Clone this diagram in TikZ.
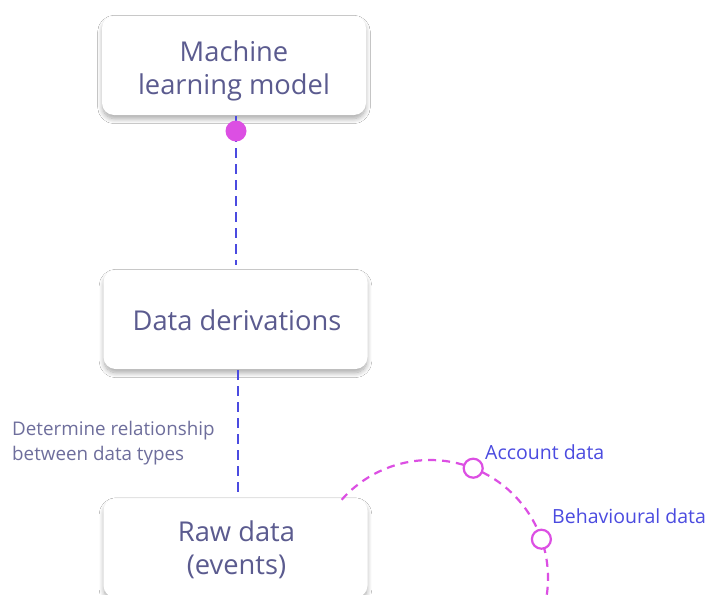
\documentclass[tikz,border=0pt]{standalone}
\usepackage{fontspec}
\setmainfont{Open Sans}
\usetikzlibrary{shadows.blur}
\definecolor{txt}{HTML}{5B5B8F}
\definecolor{lbl}{HTML}{6E6E9C}
\definecolor{blueln}{HTML}{4B4BE0}
\definecolor{mag}{HTML}{DC4FE3}
\tikzset{
  card/.style={draw=none, fill=white, rounded corners=12pt, minimum width=264pt, minimum height=99pt,
    blur shadow={shadow xshift=0pt, shadow yshift=-4pt, shadow blur radius=5pt, shadow blur steps=10, shadow opacity=35, shadow scale=0.995}},
  cardtext/.style={align=center, text=txt, font=\fontsize{27.3}{33}\selectfont, inner sep=0pt},
  dline/.style={draw=blueln, line width=2.2pt, dash pattern=on 10pt off 6pt},
  arcline/.style={draw=mag, line width=2.2pt, dash pattern=on 8pt off 6pt},
  dot/.style={circle, fill=mag, inner sep=0pt, minimum size=21pt},
  ring/.style={circle, draw=mag, fill=white, line width=2.2pt, inner sep=0pt, minimum size=19pt},
  bluetext/.style={text=blueln, font=\fontsize{19.5}{22}\selectfont, anchor=west, inner sep=0pt},
  note/.style={text=lbl, font=\fontsize{18.8}{25}\selectfont, align=left, anchor=north west, inner sep=0pt}
}
\begin{document}
\begin{tikzpicture}[x=1pt,y=-1pt]
\useasboundingbox (0,0) rectangle (705,595);
\fill[white] (0,0) rectangle (705,595);
\begin{scope}
\clip (0,0) rectangle (705,595);
\node[card] (ml) at (234,65.5) {};
\node[card] (dd) at (235.5,319.5) {};
\node[card] (raw) at (235.5,548) {};
\node[cardtext] (mlt) at (234,71) {Machine\\learning model};
\node[cardtext] (ddt) at (237,320) {Data derivations};
\node[cardtext] (rawt) at (236.5,549.5) {Raw data\\(events)};
\coordinate (l1top) at (236,116);
\coordinate (l1bot) at (236,265);
\coordinate (l2top) at (238,370);
\coordinate (l2bot) at (238,494);
\draw[dline] (l1top) -- (l1bot);
\draw[dline] (l2top) -- (l2bot);
\node[dot] (mldot) at (236,131) {};
\draw[arcline] (430,578) ++(-138.5:118) arc[start angle=-138.5, end angle=12, radius=118];
\node[ring] (acc) at (473.2,468.2) {};
\node[ring] (beh) at (541.4,539.2) {};
\node[bluetext] (acclbl) at (485,452) {Account data};
\node[bluetext] (behlbl) at (552,516) {Behavioural data};
\node[note] (det) at (12,421) {Determine relationship\\between data types};
\end{scope}
\end{tikzpicture}
\end{document}
